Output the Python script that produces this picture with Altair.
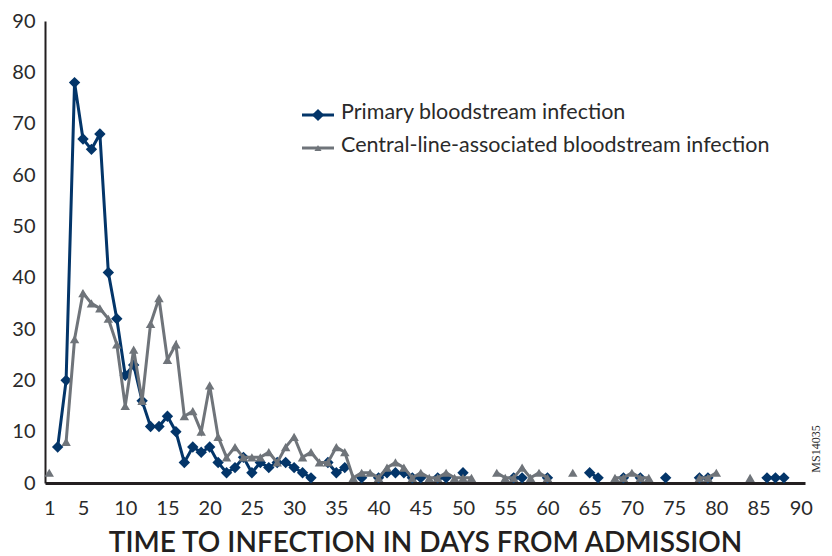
import altair as alt
import pandas as pd

# Primary bloodstream infection (days with cases)
primary_days = [2, 3, 4, 5, 6, 7, 8, 9, 10, 11, 12, 13, 14, 15, 16, 17, 18, 19, 20,
                21, 22, 23, 24, 25, 26, 27, 28, 29, 30, 31, 32,
                34, 35, 36, 38, 40, 41, 42, 43, 44, 45, 47, 48, 50,
                56, 57, 60, 65, 66, 69, 71, 74, 78, 79, 86, 87, 88]
primary_vals = [7, 20, 78, 67, 65, 68, 41, 32, 21, 23, 16, 11, 11, 13, 10, 4, 7, 6, 7,
                4, 2, 3, 5, 2, 4, 3, 4, 4, 3, 2, 1,
                4, 2, 3, 1, 1, 2, 2, 2, 1, 1, 1, 1, 2,
                1, 1, 1, 2, 1, 1, 1, 1, 1, 1, 1, 1, 1]

# Central-line-associated bloodstream infection
clabsi_days = [1, 3, 4, 5, 6, 7, 8, 9, 10, 11, 12, 13, 14, 15, 16, 17, 18, 19, 20,
               21, 22, 23, 24, 25, 26, 27, 28, 29, 30, 31, 32, 33, 34, 35, 36,
               37, 38, 39, 40, 41, 42, 43, 44, 45, 46, 47, 48, 49, 50, 51,
               54, 55, 56, 57, 58, 59, 60, 63, 68, 69, 70, 71, 72, 78, 79, 80, 84]
clabsi_vals = [2, 8, 28, 37, 35, 34, 32, 27, 15, 26, 16, 31, 36, 24, 27, 13, 14, 10, 19,
               9, 5, 7, 5, 5, 5, 6, 4, 7, 9, 5, 6, 4, 4, 7, 6,
               1, 2, 2, 1, 3, 4, 3, 1, 2, 1, 1, 2, 1, 1, 1,
               2, 1, 1, 3, 1, 2, 1, 2, 1, 1, 2, 1, 1, 1, 1, 2, 1]

x_tick_values = [1, 5, 10, 15, 20, 25, 30, 35, 40, 45, 50, 55, 60, 65, 70, 75, 80, 85, 90]
y_tick_values = [0, 10, 20, 30, 40, 50, 60, 70, 80, 90]

legend_labels = ["Primary bloodstream infection",
                 "Central-line-associated bloodstream infection"]

BLUE = "#033569"
GREY = "#6f747a"
TEXT = "#2a2a2a"
AXIS = "#231f20"
FONT = "Lato"


def frame(days, vals):
    seg, prev, s = [], None, 0
    for d in days:
        if prev is not None and d != prev + 1:
            s += 1
        seg.append(s)
        prev = d
    return pd.DataFrame({"day": days, "count": vals, "seg": seg})


dp = frame(primary_days, primary_vals)
dc = frame(clabsi_days, clabsi_vals)

x_enc = alt.X("day:Q",
              scale=alt.Scale(domain=[0.5, 90.5], nice=False, zero=False),
              axis=alt.Axis(values=x_tick_values, title="TIME TO INFECTION IN DAYS FROM ADMISSION",
                            labelFontSize=20, labelFont=FONT, labelColor=TEXT,
                            labelPadding=15, ticks=False, grid=False,
                            domainColor=AXIS, domainWidth=3,
                            titleFont=FONT, titleFontSize=28, titleFontWeight=600,
                            titleColor=AXIS, titlePadding=11, labelFlush=False))
y_enc = alt.Y("count:Q",
              scale=alt.Scale(domain=[0, 90], nice=False),
              axis=alt.Axis(values=y_tick_values, title=None,
                            labelFontSize=20, labelFont=FONT, labelColor=TEXT,
                            labelPadding=10, ticks=False, grid=False,
                            domainColor=AXIS, domainWidth=2))

blue_line = alt.Chart(dp).mark_line(color=BLUE, strokeWidth=3).encode(
    x=x_enc, y=y_enc, detail="seg:N")
blue_pts = alt.Chart(dp).mark_point(shape="diamond", filled=True, size=130,
                                    color=BLUE, opacity=1).encode(x="day:Q", y="count:Q")
grey_line = alt.Chart(dc).mark_line(color=GREY, strokeWidth=3).encode(
    x="day:Q", y="count:Q", detail="seg:N")
grey_pts = alt.Chart(dc).mark_point(shape="triangle-up", filled=True, size=90,
                                    color=GREY, opacity=1).encode(x="day:Q", y="count:Q")

one = pd.DataFrame({"k": [0]})
leg = []
for i, (lab, col, shp, sz) in enumerate([(legend_labels[0], BLUE, "diamond", 150),
                                         (legend_labels[1], GREY, "triangle-up", 50)]):
    yy = 94 + i * 33
    leg.append(alt.Chart(one).mark_rule(color=col, strokeWidth=3).encode(
        x=alt.value(257), x2=alt.value(289), y=alt.value(yy)))
    leg.append(alt.Chart(one).mark_point(shape=shp, filled=True, size=sz, color=col,
                                         opacity=1).encode(x=alt.value(273), y=alt.value(yy)))
    leg.append(alt.Chart(one).mark_text(text=lab, align="left", baseline="middle",
                                        font=FONT, fontSize=21.5, color=TEXT).encode(
        x=alt.value(296), y=alt.value(yy - 2)))

code = alt.Chart(one).mark_text(text="MS14035", angle=270, font="Liberation Sans Narrow",
                                fontSize=12, color=TEXT, align="center",
                                baseline="middle").encode(x=alt.value(771), y=alt.value(428))

chart = alt.layer(blue_line, blue_pts, grey_line, grey_pts, *leg, code).properties(
    width=760, height=462,
    autosize=alt.AutoSizeParams(type="none"),
    padding={"left": 37, "top": 13, "right": 19, "bottom": 73},
).configure_view(stroke=None)

chart.save("out.html", embed_options={"renderer": "svg", "actions": False})
